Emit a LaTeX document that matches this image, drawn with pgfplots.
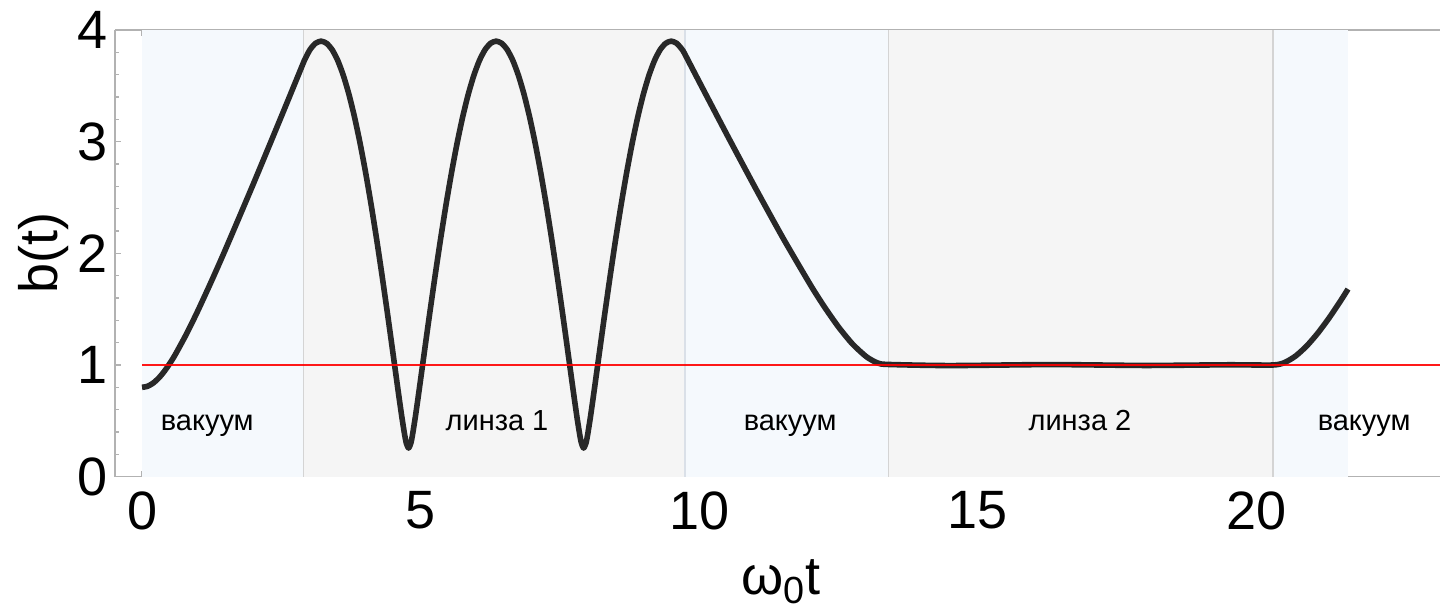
\documentclass[border=0pt]{standalone}
\usepackage{pgfplots}
\pgfplotsset{compat=1.18}
\usepackage{fontspec}
\setmainfont{Liberation Sans}
\definecolor{vacbg}{RGB}{245,249,253}
\definecolor{lensbg}{RGB}{245,245,245}
\definecolor{divider}{RGB}{212,212,212}
\definecolor{divblue}{RGB}{218,224,232}
\definecolor{axgray}{RGB}{178,178,178}
\definecolor{curve}{RGB}{40,40,40}
\begin{document}
\begin{tikzpicture}
\useasboundingbox (0,0) rectangle (720pt,306.5pt);
\begin{axis}[
  at={(57.5pt,68.15pt)}, anchor=south west,
  scale only axis, width=738pt, height=223.35pt,
  xmin=-0.485, xmax=26, ymin=0, ymax=4,
  separate axis lines,
  axis line style={axgray, line width=0.75pt},
  axis x line*=box, axis y line*=left,
  xtick={0,5,10,15,20}, ytick={0,1,2,3,4},
  minor xtick={1,2,3,4,6,7,8,9,11,12,13,14,16,17,18,19,21},
  minor y tick num=4,
  xtick pos=both, ytick pos=left,
  tick align=inside,
  major tick length=3pt, minor tick length=2pt,
  tick style={axgray, line width=0.6pt},
  /pgf/number format/assume math mode=true,
  tick label style={font=\fontsize{27}{27}\selectfont, text=black},
  xticklabel style={yshift=-4pt},
  xlabel={ω\textsubscript{0}t},
  x label style={font=\fontsize{27}{27}\selectfont, at={(axis description cs:0.4512,0)}, anchor=base, yshift=-59pt},
  ylabel={b(t)},
  y label style={font=\fontsize{27}{27}\selectfont, at={(axis description cs:-0.0481,0.5)}, anchor=center},
  clip=true,
]
% background regions
\addplot[fill=vacbg, draw=none] coordinates {(0,0) (2.893,0) (2.893,4) (0,4)} -- cycle;
\addplot[fill=lensbg, draw=none] coordinates {(2.893,0) (9.745,0) (9.745,4) (2.893,4)} -- cycle;
\addplot[fill=vacbg, draw=none] coordinates {(9.745,0) (13.39,0) (13.39,4) (9.745,4)} -- cycle;
\addplot[fill=lensbg, draw=none] coordinates {(13.39,0) (20.29,0) (20.29,4) (13.39,4)} -- cycle;
\addplot[fill=vacbg, draw=none] coordinates {(20.29,0) (21.64,0) (21.64,4) (20.29,4)} -- cycle;
% dividers
\addplot[divider, line width=0.75pt] coordinates {(2.893,0) (2.893,4)};
\addplot[divblue, line width=0.75pt] coordinates {(9.745,0) (9.745,4)};
\addplot[divider, line width=0.75pt] coordinates {(13.39,0) (13.39,4)};
\addplot[divider, line width=0.75pt] coordinates {(20.29,0) (20.29,4)};
% curve
\addplot[curve, line width=2.8pt, line join=round, smooth, tension=0.4] coordinates {
(0,0.8) (0.1,0.8097) (0.2,0.8382) (0.3,0.8835) (0.4,0.9434) (0.5,1.0152) (0.6,1.0966)
(0.8,1.2806) (1.0,1.4841) (1.25,1.7554) (1.5,2.0385) (2.0,2.6249) (2.5,3.2258) (2.893,3.7037)
(2.912,3.7266) (3.012,3.8226) (3.112,3.8806) (3.212,3.9) (3.312,3.8806) (3.412,3.8226)
(3.512,3.7266) (3.612,3.5935) (3.712,3.4248) (3.812,3.2221) (3.912,2.9875) (4.012,2.7234)
(4.112,2.4326) (4.212,2.1182) (4.312,1.7837) (4.412,1.4333) (4.462,1.2536) (4.512,1.0722)
(4.562,0.8901) (4.612,0.7094) (4.662,0.5345) (4.712,0.3763) (4.742,0.3008) (4.783,0.2565)
(4.824,0.3008) (4.854,0.3763) (4.904,0.5345) (4.954,0.7094) (5.004,0.8901) (5.054,1.0722)
(5.104,1.2536) (5.154,1.4333) (5.254,1.7837) (5.354,2.1182) (5.454,2.4326) (5.554,2.7234)
(5.654,2.9875) (5.754,3.2221) (5.854,3.4248) (5.954,3.5935) (6.054,3.7266) (6.154,3.8226)
(6.254,3.8806) (6.354,3.9) (6.454,3.8806) (6.554,3.8226) (6.654,3.7266) (6.754,3.5935)
(6.854,3.4248) (6.954,3.2221) (7.054,2.9875) (7.154,2.7234) (7.254,2.4326) (7.354,2.1182)
(7.454,1.7837) (7.554,1.4333) (7.604,1.2536) (7.654,1.0722) (7.704,0.8901) (7.754,0.7094)
(7.804,0.5345) (7.854,0.3763) (7.884,0.3008) (7.924,0.2565) (7.966,0.3008) (7.996,0.3763)
(8.046,0.5345) (8.096,0.7094) (8.146,0.8901) (8.196,1.0722) (8.246,1.2536) (8.296,1.4333)
(8.396,1.7837) (8.496,2.1182) (8.596,2.4326) (8.696,2.7234) (8.796,2.9875) (8.896,3.2221)
(8.996,3.4248) (9.096,3.5935) (9.196,3.7266) (9.296,3.8226) (9.396,3.8806) (9.495,3.9)
(9.595,3.8806) (9.695,3.8226) (9.745,3.7793)
(10.0,3.5344) (10.5,3.0581) (11.0,2.5908) (11.5,2.1382) (12.0,1.7123) (12.25,1.5165)
(12.5,1.3387) (12.75,1.1873) (13.0,1.0734) (13.2,1.0179) (13.39,1.005)
(14.5,0.995) (16.3,1.004) (18.0,0.996) (19.5,1.002) (20.29,1.0)
(20.5,1.0218) (20.7,1.0808) (20.9,1.1714) (21.1,1.2869) (21.3,1.4213) (21.5,1.5697) (21.64,1.68)
};
% reference line
\addplot[red, line width=1pt, opacity=0.9] coordinates {(0,1) (26,1)};
% region labels
\node[font=\fontsize{14.5}{14.5}\selectfont, anchor=base] at (axis cs:1.17,0.418) {вакуум};
\node[font=\fontsize{14.5}{14.5}\selectfont, anchor=base] at (axis cs:6.37,0.418) {линза 1};
\node[font=\fontsize{14.5}{14.5}\selectfont, anchor=base] at (axis cs:11.63,0.418) {вакуум};
\node[font=\fontsize{14.5}{14.5}\selectfont, anchor=base] at (axis cs:16.83,0.418) {линза 2};
\node[font=\fontsize{14.5}{14.5}\selectfont, anchor=base] at (axis cs:21.93,0.418) {вакуум};
\end{axis}
\end{tikzpicture}
\end{document}
